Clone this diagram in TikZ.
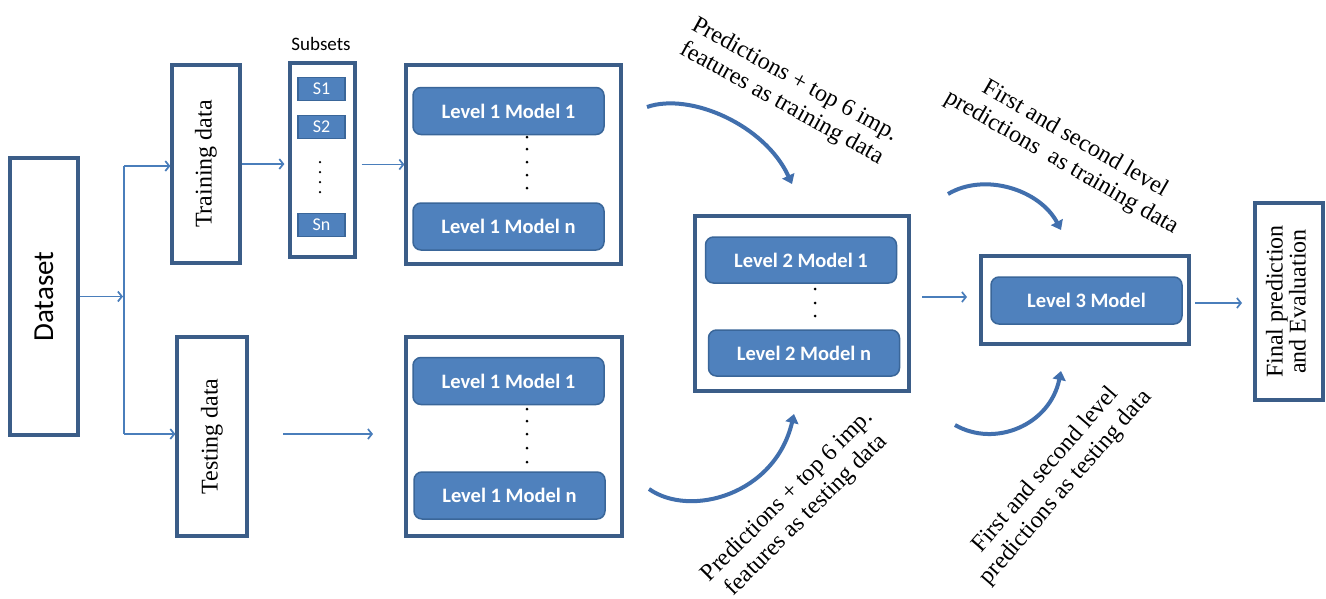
\documentclass[tikz,border=0pt]{standalone}
\usepackage{fontspec}
\usepackage{graphicx}
\setmainfont{Carlito}
\newfontfamily\tnr{Liberation Serif}
\usetikzlibrary{arrows.meta,calc}
\definecolor{outerblue}{HTML}{3B5D88}
\definecolor{fillblue}{HTML}{4F81BD}
\definecolor{innerline}{HTML}{3A6699}
\definecolor{arrowblue}{HTML}{4A7EBB}
\definecolor{curveblue}{HTML}{416FAD}
\begin{document}
\begin{tikzpicture}[x=1pt,y=-1pt,
  outerbox/.style={draw=outerblue,line width=3.2pt,fill=white,inner sep=0pt},
  modelbox/.style={draw=innerline,line width=1.5pt,fill=fillblue,rounded corners=8pt,text=white,
    font=\fontsize{20.5}{24}\selectfont\bfseries,minimum width=191pt,minimum height=47pt,inner sep=0pt},
  subbox/.style={draw=innerline,line width=1.2pt,fill=fillblue,text=white,
    font=\fontsize{18}{20}\selectfont,minimum width=47pt,minimum height=23pt,inner sep=0pt},
  conn/.style={draw=arrowblue,line width=1.7pt,-{Straight Barb[length=4pt,width=10pt]}},
  plain/.style={draw=arrowblue,line width=1.7pt},
  curv/.style={draw=curveblue,line width=4pt,-{Triangle[length=9pt,width=13pt]}},
  lbl/.style={font=\tnr\fontsize{24}{27}\selectfont,align=center,inner sep=0pt},
  mdot/.style={circle,fill=black,inner sep=0pt,minimum size=3pt}
]
\useasboundingbox[fill=white] (0,0) rectangle (1326,598);

% boxes
\node[outerbox,minimum width=68pt,minimum height=277pt] (dataset) at (44,296.5)
  {\rotatebox{90}{\fontsize{29}{31}\selectfont Dataset}};
\node[outerbox,minimum width=68pt,minimum height=198pt] (training) at (206,164)
  {\rotatebox{90}{\tnr\fontsize{24}{26}\selectfont Training data}};
\node[outerbox,minimum width=70pt,minimum height=199pt] (testing) at (212,436.5)
  {\rotatebox{90}{\tnr\fontsize{24}{26}\selectfont Testing data}};

\node[outerbox,minimum width=65pt,minimum height=194pt] (subsets) at (322.5,160) {};
\node[font=\fontsize{19}{22}\selectfont,inner sep=0pt] (subsetslbl) at (321,44) {Subsets};
\node[subbox] (s1) at (321.5,89) {S1};
\node[subbox] (s2) at (321.5,127) {S2};
\node[subbox] (sn) at (321.5,225) {Sn};
\foreach \y [count=\i] in {162,172,182,192}
  \node[mdot,minimum size=2.5pt] (sd\i) at (320,\y) {};

\node[outerbox,minimum width=215pt,minimum height=199pt] (l1a) at (513.5,164.5) {};
\node[modelbox] (l1a1) at (508.5,111) {Level 1 Model 1};
\node[modelbox] (l1an) at (508.5,226.5) {Level 1 Model n};
\foreach \y [count=\i] in {137,149,162,175,188}
  \node[mdot] (ad\i) at (527,\y) {};

\node[outerbox,minimum width=216pt,minimum height=199pt] (l1b) at (514,436.5) {};
\node[modelbox] (l1b1) at (508.5,381) {Level 1 Model 1};
\node[modelbox] (l1bn) at (509.5,495.5) {Level 1 Model n};
\foreach \y [count=\i] in {409,421,434,448,462}
  \node[mdot] (bd\i) at (527,\y) {};

\node[outerbox,minimum width=214pt,minimum height=175pt] (l2) at (802,303.5) {};
\node[modelbox,minimum height=46pt] (l21) at (801,260) {Level 2 Model 1};
\node[modelbox,minimum height=46pt] (l2n) at (804,353) {Level 2 Model n};
\foreach \y [count=\i] in {289,303,316}
  \node[mdot] (cd\i) at (815,\y) {};

\node[outerbox,minimum width=208pt,minimum height=88pt] (l3) at (1085,300) {};
\node[modelbox] (l31) at (1086.5,300.5) {Level 3 Model};

\node[outerbox,minimum width=68pt,minimum height=197pt] (final) at (1289,301.5)
  {\rotatebox{90}{\tnr\fontsize{24}{26}\selectfont\begin{tabular}{@{}c@{}}Final prediction\\[-3pt]and Evaluation\end{tabular}}};

% straight connectors
\coordinate (jm) at (123,296.5);
\coordinate (jt) at (124,166);
\coordinate (jb) at (124,434);
\draw[conn] (dataset.east) -- (jm);
\draw[plain] (jt) -- (jb);
\draw[conn] (jt) -- (jt -| training.west);
\draw[conn] (jb) -- (jb -| testing.west);
\coordinate (sa) at ($(subsets.west)+(-4,0)$);
\draw[conn] (training.east) -- (training.east -| sa);
\coordinate (sb) at ($(subsets.east)+(5,0)$);
\draw[conn] (sb |- l1a.west) -- (l1a.west);
\coordinate (ta) at (283,434);
\coordinate (tb) at (373,434);
\draw[conn] (ta) -- (tb);
\coordinate (ma) at (922,297);
\coordinate (mb) at (967,297);
\draw[conn] (ma) -- (mb);
\coordinate (fa) at (1195,303);
\coordinate (fb) at (1242,303);
\draw[conn] (fa) -- (fb);

% curved arrows
\coordinate (c1s) at (647,107);
\coordinate (c1e) at (792,184);
\draw[curv] (c1s) .. controls (690,92) and (765,125) .. (c1e);
\coordinate (c2s) at (649,489);
\coordinate (c2e) at (794,414);
\draw[curv] (c2s) .. controls (690,518) and (775,495) .. (c2e);
\coordinate (c3s) at (948,194);
\coordinate (c3e) at (1061,230);
\draw[curv] (c3s) .. controls (985,172) and (1040,190) .. (c3e);
\coordinate (c4s) at (955,425);
\coordinate (c4e) at (1061,371);
\draw[curv] (c4s) .. controls (995,448) and (1050,425) .. (c4e);

% labels
\node[lbl,rotate=-29] (lab1) at (788,92) {Predictions + top 6 imp.\\features as training data};
\node[lbl,rotate=45] (lab2) at (797,506) {Predictions + top 6 imp.\\features as testing data};
\node[lbl,rotate=-30] (lab3) at (1068,151) {First and second level\\predictions\ \ as training data};
\node[lbl,rotate=49] (lab4) at (1056,479) {First and second level\\predictions as testing data};
\end{tikzpicture}
\end{document}
